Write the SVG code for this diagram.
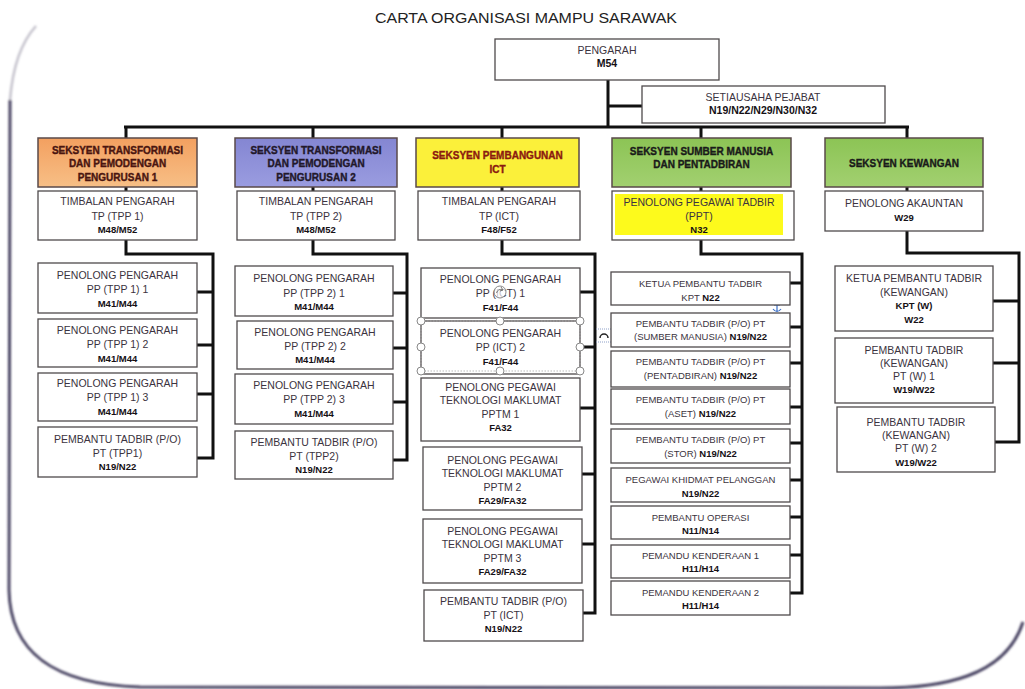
<svg xmlns="http://www.w3.org/2000/svg" width="1025" height="689" viewBox="0 0 1025 689">
<defs>
<style>
.box{fill:#fff;stroke:#4f4a4c;stroke-width:1.3}
.t{font-family:"Liberation Sans",Arial,sans-serif;font-size:10.5px;fill:#3b3340;text-anchor:middle}
.sm{font-size:9.5px}
.b{font-weight:bold;fill:#151015}
.h{font-family:"Liberation Sans",Arial,sans-serif;font-size:10px;font-weight:bold;text-anchor:middle;stroke-width:0.35}
.conn{stroke:#111;stroke-width:3;fill:none}
.hd{stroke:#5a4a4a;stroke-width:1.5}
.hdl{fill:#fff;stroke:#888;stroke-width:1}
</style>
<filter id="blur" x="-5%" y="-5%" width="110%" height="110%"><feGaussianBlur stdDeviation="0.9"/></filter>
<linearGradient id="gOr" x1="0" y1="0" x2="0" y2="1"><stop offset="0" stop-color="#f3a060"/><stop offset="1" stop-color="#f7bf86"/></linearGradient>
<linearGradient id="gBl" x1="0" y1="0" x2="0" y2="1"><stop offset="0" stop-color="#8486d2"/><stop offset="1" stop-color="#9a9ce0"/></linearGradient>
<linearGradient id="gGr" x1="0" y1="0" x2="0" y2="1"><stop offset="0" stop-color="#8cc455"/><stop offset="1" stop-color="#a2d070"/></linearGradient>
</defs>
<rect width="1025" height="689" fill="#fff"/>

<!-- frame -->
<g id="frame" fill="none" filter="url(#blur)">
<path d="M36,26 Q14,50 10,100" stroke="#c4c2cc" stroke-width="2.5"/>
<path d="M10,100 L9,590 C10,650 50,684 140,687 L880,688 C940,688 1005,678 1023,622" stroke="#4a4563" stroke-width="3"/>
</g>

<text x="526" y="23" font-family="Liberation Sans,Arial,sans-serif" font-size="14" fill="#222" text-anchor="middle" textLength="302" lengthAdjust="spacingAndGlyphs">CARTA ORGANISASI MAMPU SARAWAK</text>

<!-- connectors -->
<g id="connectors">
<path class="conn" d="M608,80 V127 M608,106 H642 M124,127 H909"/>
<path class="conn" d="M126,127 V138 M313,127 V138 M502,127 V138 M701,127 V138 M907,127 V138"/>
<path class="conn" d="M126,187 V191 M313,187 V191 M502,187 V191 M701,187 V191 M907,187 V191"/>
<path class="conn" d="M126,240 V254 H213 V458 H197 M197,292 H213 M197,345 H213 M197,394 H213"/>
<path class="conn" d="M313,240 V254 H407 V460 H393 M393,293 H407 M393,348 H407 M393,402 H407"/>
<path class="conn" d="M502,240 V254 H595 V613 H583 M580,292 H595 M580,347 H595 M580,408 H595 M582,474 H595 M582,544 H595"/>
<path class="conn" d="M701,240 V254 H802 V593 H790 M790,283 H802 M790,327 H802 M790,363 H802 M790,407 H802 M790,443 H802 M790,480 H802 M790,517 H802 M790,555 H802"/>
<path class="conn" d="M907,231 V253 H1019 V442 H995 M993,301 H1019 M993,363 H1019"/>
</g>

<g id="pengarah">
<rect class="box" x="495" y="39" width="224" height="41"/>
<text class="t" x="607" y="54" font-size="9">PENGARAH</text>
<text class="t b" x="607" y="67" font-size="9">M54</text>
</g>
<g id="setiausaha">
<rect class="box" x="642" y="86" width="243" height="37"/>
<text class="t" x="763" y="101" font-size="9">SETIAUSAHA PEJABAT</text>
<text class="t b" x="763" y="114" font-size="9">N19/N22/N29/N30/N32</text>
</g>

<!-- Section 1 -->
<g id="s1-header">
<rect class="hd" x="38" y="138" width="159" height="49" fill="url(#gOr)"/>
<text class="h" x="117.5" y="153.5" fill="#4a1510" stroke="#4a1510">SEKSYEN TRANSFORMASI</text>
<text class="h" x="117.5" y="166.5" fill="#4a1510" stroke="#4a1510">DAN PEMODENGAN</text>
<text class="h" x="117.5" y="180.5" fill="#4a1510" stroke="#4a1510">PENGURUSAN 1</text>
</g>
<g id="s1-tp">
<rect class="box" x="38" y="191" width="159" height="49"/>
<text class="t" x="117.5" y="205">TIMBALAN PENGARAH</text>
<text class="t" x="117.5" y="219.5">TP (TPP 1)</text>
<text class="t b sm" x="117.5" y="233">M48/M52</text>
</g>
<g id="s1-pp1">
<rect class="box" x="38" y="263" width="159" height="50"/>
<text class="t" x="117.5" y="278.5">PENOLONG PENGARAH</text>
<text class="t" x="117.5" y="292.5">PP (TPP 1) 1</text>
<text class="t b sm" x="117.5" y="306.5">M41/M44</text>
</g>
<g id="s1-pp2">
<rect class="box" x="38" y="319" width="159" height="48"/>
<text class="t" x="117.5" y="333.5">PENOLONG PENGARAH</text>
<text class="t" x="117.5" y="347.5">PP (TPP 1) 2</text>
<text class="t b sm" x="117.5" y="361.5">M41/M44</text>
</g>
<g id="s1-pp3">
<rect class="box" x="38" y="373" width="159" height="48"/>
<text class="t" x="117.5" y="386.5">PENOLONG PENGARAH</text>
<text class="t" x="117.5" y="400.5">PP (TPP 1) 3</text>
<text class="t b sm" x="117.5" y="415">M41/M44</text>
</g>
<g id="s1-pt">
<rect class="box" x="38" y="427" width="159" height="50"/>
<text class="t" x="117.5" y="442.5">PEMBANTU TADBIR (P/O)</text>
<text class="t" x="117.5" y="456.5">PT (TPP1)</text>
<text class="t b sm" x="117.5" y="469.5">N19/N22</text>
</g>

<!-- Section 2 -->
<g id="s2-header">
<rect class="hd" x="235" y="138" width="162" height="49" fill="url(#gBl)"/>
<text class="h" x="316" y="153.5" fill="#22182a" stroke="#22182a">SEKSYEN TRANSFORMASI</text>
<text class="h" x="316" y="166.5" fill="#22182a" stroke="#22182a">DAN PEMODENGAN</text>
<text class="h" x="316" y="180.5" fill="#22182a" stroke="#22182a">PENGURUSAN 2</text>
</g>
<g id="s2-tp">
<rect class="box" x="237" y="191" width="158" height="49"/>
<text class="t" x="316" y="205">TIMBALAN PENGARAH</text>
<text class="t" x="316" y="219.5">TP (TPP 2)</text>
<text class="t b sm" x="316" y="233">M48/M52</text>
</g>
<g id="s2-pp1">
<rect class="box" x="235" y="266" width="158" height="50"/>
<text class="t" x="314" y="281.5">PENOLONG PENGARAH</text>
<text class="t" x="314" y="296.5">PP (TPP 2) 1</text>
<text class="t b sm" x="314" y="309.5">M41/M44</text>
</g>
<g id="s2-pp2">
<rect class="box" x="237" y="321" width="156" height="48"/>
<text class="t" x="315" y="335.5">PENOLONG PENGARAH</text>
<text class="t" x="315" y="349.5">PP (TPP 2) 2</text>
<text class="t b sm" x="315" y="362.5">M41/M44</text>
</g>
<g id="s2-pp3">
<rect class="box" x="235" y="374" width="158" height="50"/>
<text class="t" x="314" y="388.5">PENOLONG PENGARAH</text>
<text class="t" x="314" y="402.5">PP (TPP 2) 3</text>
<text class="t b sm" x="314" y="416.5">M41/M44</text>
</g>
<g id="s2-pt">
<rect class="box" x="235" y="431" width="158" height="48"/>
<text class="t" x="314" y="445.5">PEMBANTU TADBIR (P/O)</text>
<text class="t" x="314" y="459.5">PT (TPP2)</text>
<text class="t b sm" x="314" y="472.5">N19/N22</text>
</g>

<!-- Section 3 -->
<g id="s3-header">
<rect class="hd" x="416" y="138" width="163" height="49" fill="#fbf03a" stroke="#8a7a50"/>
<text class="h" x="497.5" y="158.5" fill="#8b1a10" stroke="#8b1a10">SEKSYEN PEMBANGUNAN</text>
<text class="h" x="497.5" y="172.5" fill="#8b1a10" stroke="#8b1a10">ICT</text>
</g>
<g id="s3-tp">
<rect class="box" x="418" y="191" width="162" height="49"/>
<text class="t" x="499" y="205">TIMBALAN PENGARAH</text>
<text class="t" x="499" y="219.5">TP (ICT)</text>
<text class="t b sm" x="499" y="233">F48/F52</text>
</g>
<g id="s3-pp1">
<rect class="box" x="421" y="268" width="159" height="50"/>
<text class="t" x="500.5" y="282.5">PENOLONG PENGARAH</text>
<text class="t" x="500.5" y="296.5">PP (ICT) 1</text>
<text class="t b sm" x="500.5" y="311">F41/F44</text>
</g>
<g id="s3-pp2">
<rect class="box" x="421" y="321" width="159" height="53"/>
<text class="t" x="500.5" y="336.5">PENOLONG PENGARAH</text>
<text class="t" x="500.5" y="350.5">PP (ICT) 2</text>
<text class="t b sm" x="500.5" y="365">F41/F44</text>
</g>
<g id="s3-pptm1">
<rect class="box" x="421" y="378" width="159" height="63"/>
<text class="t" x="500.5" y="390.5">PENOLONG PEGAWAI</text>
<text class="t" x="500.5" y="404">TEKNOLOGI MAKLUMAT</text>
<text class="t" x="500.5" y="417.5">PPTM 1</text>
<text class="t b sm" x="500.5" y="431">FA32</text>
</g>
<g id="s3-pptm2">
<rect class="box" x="423" y="447" width="159" height="63"/>
<text class="t" x="502.5" y="463.5">PENOLONG PEGAWAI</text>
<text class="t" x="502.5" y="477">TEKNOLOGI MAKLUMAT</text>
<text class="t" x="502.5" y="490.5">PPTM 2</text>
<text class="t b sm" x="502.5" y="504">FA29/FA32</text>
</g>
<g id="s3-pptm3">
<rect class="box" x="423" y="519" width="159" height="64"/>
<text class="t" x="502.5" y="534.5">PENOLONG PEGAWAI</text>
<text class="t" x="502.5" y="548">TEKNOLOGI MAKLUMAT</text>
<text class="t" x="502.5" y="561.5">PPTM 3</text>
<text class="t b sm" x="502.5" y="575">FA29/FA32</text>
</g>
<g id="s3-pt">
<rect class="box" x="424" y="590" width="159" height="51"/>
<text class="t" x="503.5" y="604.5">PEMBANTU TADBIR (P/O)</text>
<text class="t" x="503.5" y="618.5">PT (ICT)</text>
<text class="t b sm" x="503.5" y="631.5">N19/N22</text>
</g>
<!-- selection handles (as shown in the picture) -->
<g id="selection">
<rect x="421" y="321" width="159" height="50" fill="none" stroke="#aaa" stroke-width="0.8" stroke-dasharray="1.5,1.5"/>
<circle class="hdl" cx="421" cy="321" r="4"/><circle class="hdl" cx="500" cy="321" r="4"/><circle class="hdl" cx="580" cy="321" r="4"/>
<circle class="hdl" cx="421" cy="347" r="4"/><circle class="hdl" cx="580" cy="347" r="4"/>
<circle class="hdl" cx="421" cy="371" r="4"/><circle class="hdl" cx="500" cy="371" r="4"/><circle class="hdl" cx="580" cy="371" r="4"/>
<circle cx="500" cy="292" r="6" fill="#fff" fill-opacity="0.7" stroke="#888" stroke-width="1"/>
<path d="M496.5,293 Q498,288 503,290 M503,290 L501,287 M503,290 L500,291" fill="none" stroke="#777" stroke-width="1"/>
<path d="M596,329 H612 M596,342 H612" stroke="#8ea0c8" stroke-width="1" stroke-dasharray="1,1"/>
<path d="M600,338 A4,4 0 0 1 608,338" fill="none" stroke="#222" stroke-width="1.5"/>
<path d="M777,302 V311 M774,305 H780 M773,309 Q777,314 781,309" fill="none" stroke="#3a6fc8" stroke-width="1.2"/>
<circle cx="777" cy="301" r="1.3" fill="none" stroke="#3a6fc8" stroke-width="0.9"/>
</g>

<!-- Section 4 -->
<g id="s4-header">
<rect class="hd" x="612" y="138" width="179" height="49" fill="url(#gGr)"/>
<text class="h" x="701.5" y="154.5" fill="#1a1a1a" stroke="#1a1a1a">SEKSYEN SUMBER MANUSIA</text>
<text class="h" x="701.5" y="167.5" fill="#1a1a1a" stroke="#1a1a1a">DAN PENTADBIRAN</text>
</g>
<g id="s4-ppt">
<rect class="box" x="612" y="191" width="182" height="49"/>
<rect x="615" y="194" width="168" height="41" fill="#fdfa1c"/>
<text class="t" x="699" y="205.5" fill="#7a1f1f">PENOLONG PEGAWAI TADBIR</text>
<text class="t" x="699" y="220" fill="#7a1f1f">(PPT)</text>
<text class="t b sm" x="699" y="233" fill="#6a1515">N32</text>
</g>
<g id="s4-kpt">
<rect class="box" x="611" y="272" width="179" height="33"/>
<text class="t sm" x="700.5" y="286.5">KETUA PEMBANTU TADBIR</text>
<text class="t sm" x="700.5" y="300.5">KPT <tspan class="b">N22</tspan></text>
</g>
<g id="s4-pt-sm">
<rect class="box" x="611" y="313" width="179" height="34"/>
<text class="t sm" x="700.5" y="326.5">PEMBANTU TADBIR (P/O) PT</text>
<text class="t sm" x="700.5" y="340">(SUMBER MANUSIA) <tspan class="b">N19/N22</tspan></text>
</g>
<g id="s4-pt-pent">
<rect class="box" x="611" y="351" width="179" height="36"/>
<text class="t sm" x="700.5" y="364.5">PEMBANTU TADBIR (P/O) PT</text>
<text class="t sm" x="700.5" y="378.5">(PENTADBIRAN) <tspan class="b">N19/N22</tspan></text>
</g>
<g id="s4-pt-aset">
<rect class="box" x="611" y="389" width="179" height="35"/>
<text class="t sm" x="700.5" y="402.5">PEMBANTU TADBIR (P/O) PT</text>
<text class="t sm" x="700.5" y="416.5">(ASET) <tspan class="b">N19/N22</tspan></text>
</g>
<g id="s4-pt-stor">
<rect class="box" x="611" y="429" width="179" height="34"/>
<text class="t sm" x="700.5" y="442.5">PEMBANTU TADBIR (P/O) PT</text>
<text class="t sm" x="700.5" y="456.5">(STOR) <tspan class="b">N19/N22</tspan></text>
</g>
<g id="s4-pkp">
<rect class="box" x="611" y="468" width="179" height="34"/>
<text class="t sm" x="700.5" y="482.5">PEGAWAI KHIDMAT PELANGGAN</text>
<text class="t b sm" x="700.5" y="496.5">N19/N22</text>
</g>
<g id="s4-po">
<rect class="box" x="611" y="506" width="179" height="33"/>
<text class="t sm" x="700.5" y="520.5">PEMBANTU OPERASI</text>
<text class="t b sm" x="700.5" y="534">N11/N14</text>
</g>
<g id="s4-pk1">
<rect class="box" x="611" y="545" width="179" height="33"/>
<text class="t sm" x="700.5" y="558.5">PEMANDU KENDERAAN 1</text>
<text class="t b sm" x="700.5" y="572">H11/H14</text>
</g>
<g id="s4-pk2">
<rect class="box" x="611" y="581" width="179" height="34"/>
<text class="t sm" x="700.5" y="595.5">PEMANDU KENDERAAN 2</text>
<text class="t b sm" x="700.5" y="609">H11/H14</text>
</g>

<!-- Section 5 -->
<g id="s5-header">
<rect class="hd" x="825" y="138" width="158" height="49" fill="url(#gGr)"/>
<text class="h" x="904" y="166.5" fill="#1a1a1a" stroke="#1a1a1a">SEKSYEN KEWANGAN</text>
</g>
<g id="s5-pa">
<rect class="box" x="825" y="191" width="158" height="40"/>
<text class="t" x="904" y="206.5">PENOLONG AKAUNTAN</text>
<text class="t b sm" x="904" y="220.5">W29</text>
</g>
<g id="s5-kpt">
<rect class="box" x="835" y="266" width="158" height="65"/>
<text class="t" x="914" y="282">KETUA PEMBANTU TADBIR</text>
<text class="t" x="914" y="295.5">(KEWANGAN)</text>
<text class="t b sm" x="914" y="309">KPT (W)</text>
<text class="t b sm" x="914" y="322.5">W22</text>
</g>
<g id="s5-pt1">
<rect class="box" x="835" y="338" width="158" height="65"/>
<text class="t" x="914" y="353.5">PEMBANTU TADBIR</text>
<text class="t" x="914" y="366.5">(KEWANGAN)</text>
<text class="t" x="914" y="380">PT (W) 1</text>
<text class="t b sm" x="914" y="393">W19/W22</text>
</g>
<g id="s5-pt2">
<rect class="box" x="837" y="407" width="158" height="65"/>
<text class="t" x="916" y="425.5">PEMBANTU TADBIR</text>
<text class="t" x="916" y="438.5">(KEWANGAN)</text>
<text class="t" x="916" y="452">PT (W) 2</text>
<text class="t b sm" x="916" y="465.5">W19/W22</text>
</g>
</svg>
